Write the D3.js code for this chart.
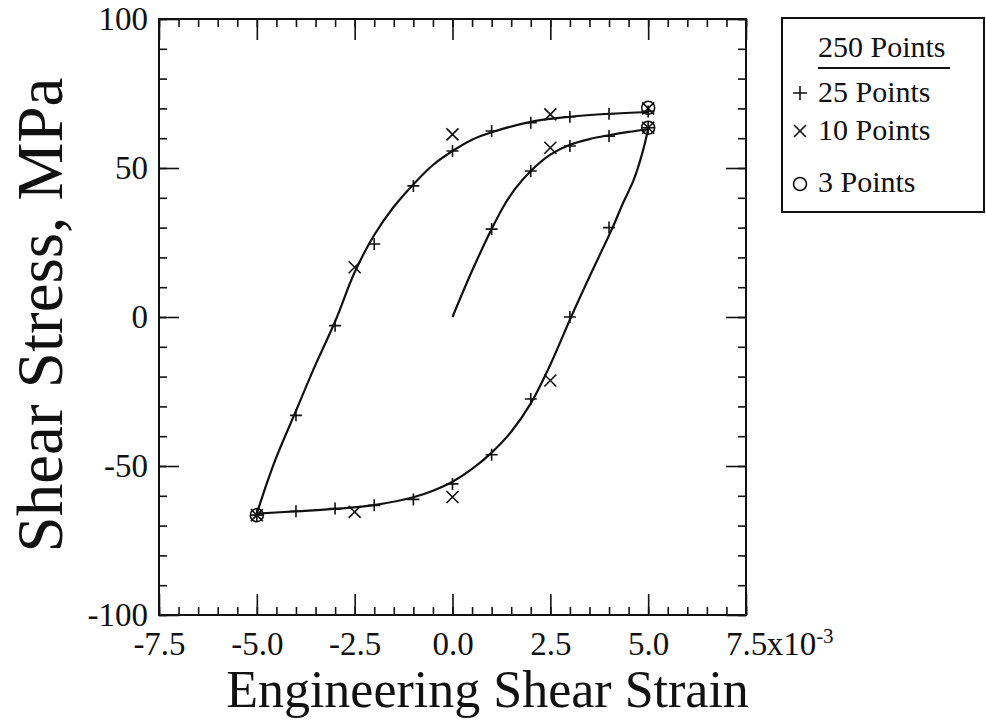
<!DOCTYPE html>
<html>
<head>
<meta charset="utf-8">
<script src="https://cdn.jsdelivr.net/npm/d3@7/dist/d3.min.js"></script>
<style>
  html, body { margin: 0; padding: 0; background: #fff; }
  svg { display: block; }
  text { font-family: "Liberation Serif", "DejaVu Serif", serif; fill: #111; }
</style>
</head>
<body>
<svg id="chart" width="986" height="721"></svg>
<script>
// ---- Data ----
// Strain in units of 10^-3, stress in MPa
const xTicks = [-7.5, -5.0, -2.5, 0.0, 2.5, 5.0, 7.5];
const yTicks = [-100, -50, 0, 50, 100];

// 250-point curve (traced line), three branches
const loadStrain = [0, 0.5, 1, 1.3, 1.6, 2, 2.5, 3, 3.5, 4, 4.5, 5];
const loadStress = [0, 15.5, 29.5, 37, 43, 49, 54.5, 57.8, 59.7, 61, 62.1, 63];

const unloadStrain = [5, 4.85, 4.63, 4.35, 4.09, 3.5, 3.03, 2.5, 2.0, 1.5, 1, 0.5, 0, -0.5, -1, -2, -3, -4, -5];
const unloadStress = [63, 55, 46, 38, 30, 13.5, 0, -16, -29, -38.5, -45.5, -51, -55.3, -58.3, -60.5, -63.1, -64.4, -65.2, -66];

const reloadStrain = [-5, -4.75, -4.5, -4, -3.5, -3, -2.5, -2, -1.5, -1, -0.5, 0, 0.5, 1, 2, 3, 4, 5];
const reloadStress = [-66, -56, -47, -31.5, -16, -1.5, 15, 27.5, 37, 44.5, 51, 55.7, 59.5, 62, 65.5, 67.2, 68.2, 68.8];

// 25 points (+)
const plusStrain = [1, 2, 3, 4, 5, 4, 3, 2, 1, 0, -1, -2, -3, -4, -5, -4, -3, -2, -1, 0, 1, 2, 3, 4, 5];
const plusStress = [29.5, 49, 57.4, 60.7, 63.5, 30, 0, -27.5, -46.2, -56, -61.2, -63.2, -64.3, -65.2, -66.5,
  -33, -2.9, 24.5, 44, 55.7, 62.4, 65.2, 67.2, 68.2, 69];

// 10 points (x)
const crossStrain = [2.5, 5, 2.5, 0, -2.5, -5, -2.5, 0, 2.5, 5];
const crossStress = [56.8, 63.5, -21.3, -60.4, -65.4, -66.5, 16.7, 61.3, 68, 70];

// 3 points (o)
const circleStrain = [5, -5, 5];
const circleStress = [63.5, -66.5, 70.2];

const legendLabels = ["250 Points", "25 Points", "10 Points", "3 Points"];

// ---- Layout ----
const svg = d3.select("#chart");
const L = 159, R = 746, T = 19, B = 615;

const x = d3.scaleLinear().domain([-7.5, 7.5]).range([L, R]);
const y = d3.scaleLinear().domain([-100, 100]).range([B, T]);

const minorX = d3.range(-7.5, 7.5001, 0.5);
const minorY = d3.range(-100, 100.001, 10);

const fmtX = v => (v < 0 ? "-" : "") + Math.abs(v).toFixed(1);
const fmtY = v => (v < 0 ? "-" : "") + Math.abs(v);

function styleAxis(g) {
  g.select(".domain").remove();
  g.selectAll(".tick line").attr("stroke", "#111").attr("stroke-width", 1.6);
}

// minor ticks
svg.append("g").attr("transform", `translate(0,${B})`)
  .call(d3.axisBottom(x).tickValues(minorX).tickSizeInner(-8).tickSizeOuter(0).tickFormat(""))
  .call(styleAxis);
svg.append("g").attr("transform", `translate(0,${T})`)
  .call(d3.axisTop(x).tickValues(minorX).tickSizeInner(-8).tickSizeOuter(0).tickFormat(""))
  .call(styleAxis);
svg.append("g").attr("transform", `translate(${L},0)`)
  .call(d3.axisLeft(y).tickValues(minorY).tickSizeInner(-8).tickSizeOuter(0).tickFormat(""))
  .call(styleAxis);
svg.append("g").attr("transform", `translate(${R},0)`)
  .call(d3.axisRight(y).tickValues(minorY).tickSizeInner(-8).tickSizeOuter(0).tickFormat(""))
  .call(styleAxis);

// major ticks
svg.append("g").attr("transform", `translate(0,${T})`)
  .call(d3.axisTop(x).tickValues(xTicks).tickSizeInner(-21).tickSizeOuter(0).tickFormat(""))
  .call(styleAxis);
svg.append("g").attr("transform", `translate(${R},0)`)
  .call(d3.axisRight(y).tickValues(yTicks).tickSizeInner(-20).tickSizeOuter(0).tickFormat(""))
  .call(styleAxis);

const xAxis = svg.append("g").attr("transform", `translate(0,${B})`)
  .call(d3.axisBottom(x).tickValues(xTicks).tickSizeInner(-21).tickSizeOuter(0).tickFormat(fmtX))
  .call(styleAxis);
xAxis.selectAll(".tick text")
  .attr("y", 40).attr("dy", 0)
  .style("font-size", "33px")
  .style("font-family", "'Liberation Serif', serif")
  .attr("fill", "#111");

const yAxis = svg.append("g").attr("transform", `translate(${L},0)`)
  .call(d3.axisLeft(y).tickValues(yTicks).tickSizeInner(-20).tickSizeOuter(0).tickFormat(fmtY))
  .call(styleAxis);
yAxis.selectAll(".tick text")
  .attr("x", -11).attr("dy", "0.33em")
  .style("font-size", "33px")
  .style("font-family", "'Liberation Serif', serif")
  .attr("fill", "#111");

// "x10^-3" after last x label
const lastLbl = xAxis.selectAll(".tick text").filter(d => d === 7.5).node();
const lbb = lastLbl.getBBox();
const expText = svg.append("text")
  .attr("x", x(7.5) + lbb.width / 2)
  .attr("y", B + 40)
  .style("font-size", "33px");
expText.append("tspan").text("x10");
expText.append("tspan").attr("dy", -12).style("font-size", "21px").text("-3");

// frame
svg.append("rect").attr("x", L).attr("y", T).attr("width", R - L).attr("height", B - T)
  .attr("fill", "none").attr("stroke", "#111").attr("stroke-width", 2);

// axis titles
svg.append("text").attr("x", (L + R) / 2 + 35).attr("y", 707)
  .attr("text-anchor", "middle").style("font-size", "52px")
  .text("Engineering Shear Strain");
svg.append("text")
  .attr("transform", `translate(62,${(T + B) / 2 - 2}) rotate(-90)`)
  .attr("text-anchor", "middle").style("font-size", "65px")
  .text("Shear Stress, MPa");

// curve: three branches
const line = d3.line().x(d => x(d[0])).y(d => y(d[1])).curve(d3.curveCatmullRom.alpha(0.5));
const branches = [
  loadStrain.map((s, i) => [s, loadStress[i]]),
  unloadStrain.map((s, i) => [s, unloadStress[i]]),
  reloadStrain.map((s, i) => [s, reloadStress[i]])
];
svg.append("g").selectAll("path").data(branches).join("path")
  .attr("fill", "none").attr("stroke", "#111").attr("stroke-width", 2.2)
  .attr("stroke-linejoin", "round")
  .attr("d", line);

// markers
const mk = svg.append("g").attr("stroke", "#111").attr("stroke-width", 1.6).attr("fill", "none");
const plusPath = "M-6,0H6M0,-6V6";
const crossPath = "M-6,-6L6,6M-6,6L6,-6";
mk.selectAll(".p").data(plusStrain.map((s, i) => [s, plusStress[i]])).join("path")
  .attr("transform", d => `translate(${x(d[0])},${y(d[1])})`).attr("d", plusPath);
mk.selectAll(".c").data(crossStrain.map((s, i) => [s, crossStress[i]])).join("path")
  .attr("transform", d => `translate(${x(d[0])},${y(d[1])})`).attr("d", crossPath);
mk.selectAll("circle").data(circleStrain.map((s, i) => [s, circleStress[i]])).join("circle")
  .attr("cx", d => x(d[0])).attr("cy", d => y(d[1])).attr("r", 6.5);

// legend
const lg = svg.append("g");
lg.append("rect").attr("x", 782).attr("y", 18).attr("width", 202).attr("height", 194)
  .attr("fill", "#fff").attr("stroke", "#111").attr("stroke-width", 2);
lg.append("text").attr("x", 818).attr("y", 57).style("font-size", "30px").text(legendLabels[0]);
lg.append("line").attr("x1", 818).attr("x2", 950).attr("y1", 68).attr("y2", 68)
  .attr("stroke", "#111").attr("stroke-width", 2);
const rowsY = [102, 140, 192];
lg.append("path").attr("transform", `translate(800,${rowsY[0] - 9})`).attr("d", "M-7,0H7M0,-7V7")
  .attr("stroke", "#111").attr("stroke-width", 1.6);
lg.append("path").attr("transform", `translate(800,${rowsY[1] - 9})`).attr("d", "M-6,-6L6,6M-6,6L6,-6")
  .attr("stroke", "#111").attr("stroke-width", 1.6);
lg.append("circle").attr("cx", 800).attr("cy", rowsY[2] - 8).attr("r", 6.5)
  .attr("fill", "none").attr("stroke", "#111").attr("stroke-width", 1.6);
[1, 2, 3].forEach((k, i) => {
  lg.append("text").attr("x", 818).attr("y", rowsY[i]).style("font-size", "30px").text(legendLabels[k]);
});
</script>
</body>
</html>
